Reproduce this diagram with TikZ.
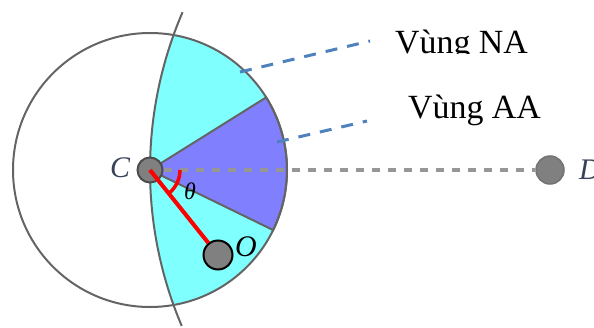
\documentclass[tikz,border=0pt]{standalone}
\usepackage{fontspec}
\setmainfont{Liberation Serif}
\definecolor{cyanfill}{RGB}{128,255,255}
\definecolor{purplefill}{RGB}{128,128,255}
\definecolor{outlinegray}{RGB}{100,100,100}
\definecolor{leaderblue}{RGB}{79,129,189}
\definecolor{dashgray}{RGB}{150,150,150}
\definecolor{dotgray}{RGB}{128,128,128}
\definecolor{labelslate}{RGB}{55,65,90}
\tikzset{
  outline/.style={draw=outlinegray, line width=2bp},
  dot/.style={circle, fill=dotgray, inner sep=0pt},
  leader/.style={draw=leaderblue, line width=3bp, dash pattern=on 12bp off 10bp},
  bigtext/.style={font=\fontsize{34}{40}\selectfont, inner sep=0pt},
  letter/.style={font=\fontsize{30}{36}\selectfont\itshape, inner sep=0pt},
}
\begin{document}
\begin{tikzpicture}[x=1bp,y=1bp]
\useasboundingbox (0,0) rectangle (594,327);
% cyan region: part of circle C inside circle D
\begin{scope}
  \clip (549,157) circle (399);
  \fill[cyanfill] (150,157) circle (137);
\end{scope}
% purple sector
\filldraw[fill=purplefill, outline] (150,157) -- ++(32:137) arc[start angle=32, end angle=-26, radius=137] -- cycle;
% big circle around C
\draw[outline] (150,157) circle (137);
% arc of circle around D through C
\draw[outline] (549,157) ++(156.7:399) arc[start angle=156.7, end angle=203, radius=399];
% dots
\node[dot, draw=black!70, line width=2bp, minimum size=25bp] (C) at (150,157) {};
\node[dot, draw=black!55, line width=1.5bp, minimum size=28bp] (D) at (550,157) {};
\node[dot, draw=black, line width=2bp, minimum size=29bp] (O) at (218,72) {};
% dashed line C--D
\draw[dashgray, line width=4bp, dash pattern=on 8bp off 8bp] (C) -- (D);
% red segment and angle
\draw[red, line width=4bp] (C.center) -- (O);
\draw[red, line width=3.5bp] ([shift={(0:30)}]C.center) arc[start angle=0, end angle=-51, radius=30];
% labels
\node[letter, text=labelslate] (Clab) at (120,159) {C};
\node[letter, anchor=west, text=labelslate] (Dlab) at (579,157) {D};
\node[letter, anchor=west] (Olab) at (235,80) {O};
\node[font=\fontsize{24}{28}\selectfont\itshape, inner sep=0pt] (theta) at (190,136) {θ};
% region labels
\begin{scope}
  \clip (380,274) rectangle (594,327);
  \node[bigtext, anchor=base west] (NA) at (395,274) {Vùng NA};
\end{scope}
\node[bigtext, anchor=base west] (AA) at (408,209) {Vùng AA};
% leaders
\coordinate (NAa) at (240,255);
\coordinate (NAb) at (370,286);
\coordinate (AAa) at (277,185);
\coordinate (AAb) at (367,206);
\draw[leader] (NAa) -- (NAb);
\draw[leader] (AAa) -- (AAb);
\end{tikzpicture}
\end{document}
